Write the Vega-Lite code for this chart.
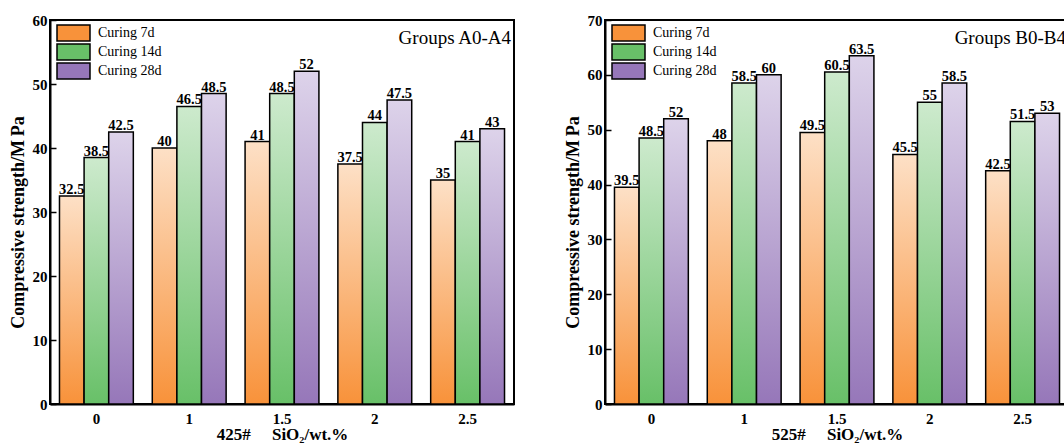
{
  "$schema": "https://vega.github.io/schema/vega-lite/v6.json",
  "padding": {"left": 8, "top": 12, "right": 0, "bottom": 0},
  "background": "white",
  "datasets": {
    "d": [
      {"p": "A", "x": "0", "c": "Curing 7d", "v": 32.5},
      {"p": "A", "x": "0", "c": "Curing 14d", "v": 38.5},
      {"p": "A", "x": "0", "c": "Curing 28d", "v": 42.5},
      {"p": "A", "x": "1", "c": "Curing 7d", "v": 40},
      {"p": "A", "x": "1", "c": "Curing 14d", "v": 46.5},
      {"p": "A", "x": "1", "c": "Curing 28d", "v": 48.5},
      {"p": "A", "x": "1.5", "c": "Curing 7d", "v": 41},
      {"p": "A", "x": "1.5", "c": "Curing 14d", "v": 48.5},
      {"p": "A", "x": "1.5", "c": "Curing 28d", "v": 52},
      {"p": "A", "x": "2", "c": "Curing 7d", "v": 37.5},
      {"p": "A", "x": "2", "c": "Curing 14d", "v": 44},
      {"p": "A", "x": "2", "c": "Curing 28d", "v": 47.5},
      {"p": "A", "x": "2.5", "c": "Curing 7d", "v": 35},
      {"p": "A", "x": "2.5", "c": "Curing 14d", "v": 41},
      {"p": "A", "x": "2.5", "c": "Curing 28d", "v": 43},
      {"p": "B", "x": "0", "c": "Curing 7d", "v": 39.5},
      {"p": "B", "x": "0", "c": "Curing 14d", "v": 48.5},
      {"p": "B", "x": "0", "c": "Curing 28d", "v": 52},
      {"p": "B", "x": "1", "c": "Curing 7d", "v": 48},
      {"p": "B", "x": "1", "c": "Curing 14d", "v": 58.5},
      {"p": "B", "x": "1", "c": "Curing 28d", "v": 60},
      {"p": "B", "x": "1.5", "c": "Curing 7d", "v": 49.5},
      {"p": "B", "x": "1.5", "c": "Curing 14d", "v": 60.5},
      {"p": "B", "x": "1.5", "c": "Curing 28d", "v": 63.5},
      {"p": "B", "x": "2", "c": "Curing 7d", "v": 45.5},
      {"p": "B", "x": "2", "c": "Curing 14d", "v": 55},
      {"p": "B", "x": "2", "c": "Curing 28d", "v": 58.5},
      {"p": "B", "x": "2.5", "c": "Curing 7d", "v": 42.5},
      {"p": "B", "x": "2.5", "c": "Curing 14d", "v": 51.5},
      {"p": "B", "x": "2.5", "c": "Curing 28d", "v": 53}
    ]
  },
  "config": {
    "font": "Liberation Serif",
    "view": {"stroke": "black", "strokeWidth": 2},
    "axis": {
      "domainColor": "black", "domainWidth": 2,
      "tickColor": "black", "tickWidth": 1.5,
      "labelFont": "Liberation Serif", "labelFontWeight": "bold", "labelFontSize": 15, "labelColor": "black",
      "titleFont": "Liberation Serif", "titleFontWeight": "bold", "titleColor": "black",
      "grid": false
    },
    "axisY": {"tickSize": -6, "labelPadding": 9, "titlePadding": 5, "titleFontSize": 18, "titleY": 202},
    "axisX": {"tickSize": -5, "labelPadding": 12, "titlePadding": 0, "labelAngle": 0, "titleFontSize": 17},
    "legend": {
      "orient": "top-left", "offset": 6, "padding": 0,
      "labelFont": "Liberation Serif", "labelFontSize": 14, "labelColor": "black",
      "symbolStrokeColor": "black", "symbolStrokeWidth": 1.5, "rowPadding": -3, "labelOffset": 28
    },
    "title": {"font": "Liberation Serif", "fontSize": 19, "fontWeight": "normal", "anchor": "end", "offset": -35, "frame": "group", "color": "black", "dx": -3}
  },
  "spacing": 48,
  "resolve": {"scale": {"fill": "independent", "y": "independent", "x": "independent", "xOffset": "independent"}, "legend": {"fill": "independent"}, "axis": {"x": "independent", "y": "independent"}},
  "hconcat": [
    {
      "width": 464, "height": 384,
      "title": {"text": "Groups A0-A4"},
      "data": {"name": "d"},
      "transform": [{"filter": "datum.p === 'A'"}],
      "encoding": {
        "x": {"field": "x", "type": "nominal", "scale": {"paddingInner": 0, "paddingOuter": 0}, "axis": {"title": "425#\u00a0\u00a0\u00a0\u00a0\u00a0SiO\u2082/wt.%"}},
        "xOffset": {"field": "c", "type": "nominal", "sort": ["Curing 7d", "Curing 14d", "Curing 28d"], "scale": {"paddingInner": 0, "paddingOuter": 0.385}},
        "y": {"field": "v", "type": "quantitative", "scale": {"domain": [0, 60], "nice": false}, "axis": {"values": [0, 10, 20, 30, 40, 50, 60], "title": "Compressive strength/M\u2009Pa"}}
      },
      "layer": [
        {
          "mark": {"type": "bar"},
          "encoding": {
            "fill": {"field": "c", "type": "nominal", "sort": ["Curing 7d", "Curing 14d", "Curing 28d"],
              "scale": {"range": ["#f8923a", "#68c068", "#9677b9"]},
              "legend": {"title": null, "symbolType": "M-1,-1.33H4.5V1.33H-1Z", "symbolSize": 144,
                "encode": {"symbols": {"update": {"stroke": {"value": "black"}, "strokeWidth": {"value": 1.5}, "fill": {"signal": "datum.value === 'Curing 7d' ? {gradient: 'linear', x1: 0, y1: 0, x2: 0, y2: 1, stops: [{offset: 0, color: '#fde0c6'}, {offset: 1, color: '#f8923a'}]} : datum.value === 'Curing 14d' ? {gradient: 'linear', x1: 0, y1: 0, x2: 0, y2: 1, stops: [{offset: 0, color: '#cdeacd'}, {offset: 1, color: '#68c068'}]} : {gradient: 'linear', x1: 0, y1: 0, x2: 0, y2: 1, stops: [{offset: 0, color: '#ddd3ea'}, {offset: 1, color: '#9677b9'}]}"}}}}}}
          }
        },
        {
          "mark": {"type": "bar", "stroke": "black", "strokeWidth": 1.5},
          "encoding": {
            "fill": {"condition": [
              {"test": "datum.c === 'Curing 7d'", "value": {"gradient": "linear", "x1": 0, "y1": 0, "x2": 0, "y2": 1, "stops": [{"offset": 0, "color": "#fde0c6"}, {"offset": 1, "color": "#f8923a"}]}},
              {"test": "datum.c === 'Curing 14d'", "value": {"gradient": "linear", "x1": 0, "y1": 0, "x2": 0, "y2": 1, "stops": [{"offset": 0, "color": "#cdeacd"}, {"offset": 1, "color": "#68c068"}]}}
            ], "value": {"gradient": "linear", "x1": 0, "y1": 0, "x2": 0, "y2": 1, "stops": [{"offset": 0, "color": "#ddd3ea"}, {"offset": 1, "color": "#9677b9"}]}}
          }
        },
        {
          "mark": {"type": "text", "baseline": "alphabetic", "dy": -2, "fontWeight": "bold", "fontSize": 14.5, "font": "Liberation Serif", "color": "black"},
          "encoding": {
            "text": {"field": "v", "type": "quantitative"}
          }
        }
      ]
    },
    {
      "width": 464, "height": 384,
      "title": {"text": "Groups B0-B4"},
      "data": {"name": "d"},
      "transform": [{"filter": "datum.p === 'B'"}],
      "encoding": {
        "x": {"field": "x", "type": "nominal", "scale": {"paddingInner": 0, "paddingOuter": 0}, "axis": {"title": "525#\u00a0\u00a0\u00a0\u00a0\u00a0SiO\u2082/wt.%"}},
        "xOffset": {"field": "c", "type": "nominal", "sort": ["Curing 7d", "Curing 14d", "Curing 28d"], "scale": {"paddingInner": 0, "paddingOuter": 0.385}},
        "y": {"field": "v", "type": "quantitative", "scale": {"domain": [0, 70], "nice": false}, "axis": {"values": [0, 10, 20, 30, 40, 50, 60, 70], "title": "Compressive strength/M\u2009Pa"}}
      },
      "layer": [
        {
          "mark": {"type": "bar"},
          "encoding": {
            "fill": {"field": "c", "type": "nominal", "sort": ["Curing 7d", "Curing 14d", "Curing 28d"],
              "scale": {"range": ["#f8923a", "#68c068", "#9677b9"]},
              "legend": {"title": null, "symbolType": "M-1,-1.33H4.5V1.33H-1Z", "symbolSize": 144,
                "encode": {"symbols": {"update": {"stroke": {"value": "black"}, "strokeWidth": {"value": 1.5}, "fill": {"signal": "datum.value === 'Curing 7d' ? {gradient: 'linear', x1: 0, y1: 0, x2: 0, y2: 1, stops: [{offset: 0, color: '#fde0c6'}, {offset: 1, color: '#f8923a'}]} : datum.value === 'Curing 14d' ? {gradient: 'linear', x1: 0, y1: 0, x2: 0, y2: 1, stops: [{offset: 0, color: '#cdeacd'}, {offset: 1, color: '#68c068'}]} : {gradient: 'linear', x1: 0, y1: 0, x2: 0, y2: 1, stops: [{offset: 0, color: '#ddd3ea'}, {offset: 1, color: '#9677b9'}]}"}}}}}}
          }
        },
        {
          "mark": {"type": "bar", "stroke": "black", "strokeWidth": 1.5},
          "encoding": {
            "fill": {"condition": [
              {"test": "datum.c === 'Curing 7d'", "value": {"gradient": "linear", "x1": 0, "y1": 0, "x2": 0, "y2": 1, "stops": [{"offset": 0, "color": "#fde0c6"}, {"offset": 1, "color": "#f8923a"}]}},
              {"test": "datum.c === 'Curing 14d'", "value": {"gradient": "linear", "x1": 0, "y1": 0, "x2": 0, "y2": 1, "stops": [{"offset": 0, "color": "#cdeacd"}, {"offset": 1, "color": "#68c068"}]}}
            ], "value": {"gradient": "linear", "x1": 0, "y1": 0, "x2": 0, "y2": 1, "stops": [{"offset": 0, "color": "#ddd3ea"}, {"offset": 1, "color": "#9677b9"}]}}
          }
        },
        {
          "mark": {"type": "text", "baseline": "alphabetic", "dy": -2, "fontWeight": "bold", "fontSize": 14.5, "font": "Liberation Serif", "color": "black"},
          "encoding": {
            "text": {"field": "v", "type": "quantitative"}
          }
        }
      ]
    }
  ]
}
